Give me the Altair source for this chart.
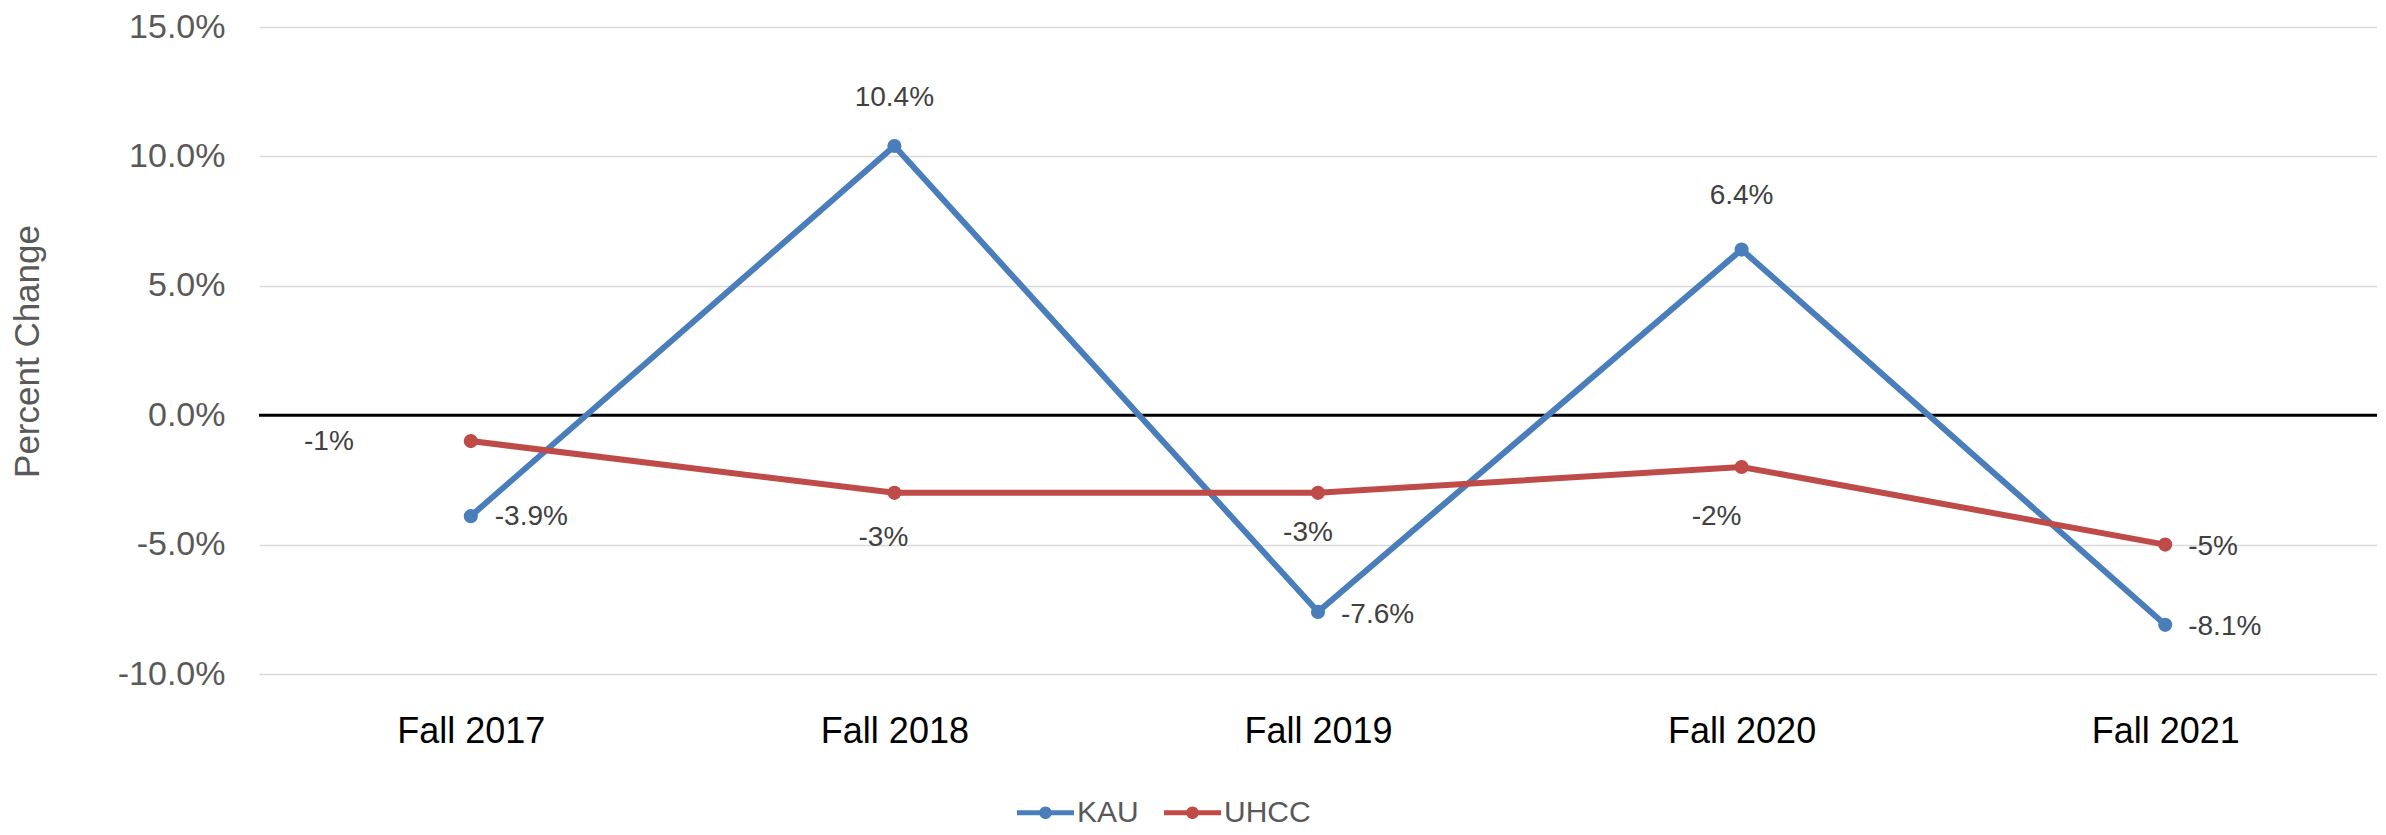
import altair as alt
import pandas as pd

categories = ["Fall 2017", "Fall 2018", "Fall 2019", "Fall 2020", "Fall 2021"]
kau = [-3.9, 10.4, -7.6, 6.4, -8.1]
uhcc = [-1, -3, -3, -2, -5]
series_names = ["KAU", "UHCC"]
colors = ["#4A7EBB", "#BE4B48"]
y_ticks = [-10, -5, 0, 5, 10, 15]

# data-label placement (style only): (series, term) -> (align, dx, dy)
label_place = {
    ("KAU", "Fall 2017"): ("left", 24, 1),
    ("KAU", "Fall 2018"): ("center", 0, -48),
    ("KAU", "Fall 2019"): ("left", 23, 3),
    ("KAU", "Fall 2020"): ("center", 0, -54),
    ("KAU", "Fall 2021"): ("left", 23, 2),
    ("UHCC", "Fall 2017"): ("right", -117, 1),
    ("UHCC", "Fall 2018"): ("center", -11, 45),
    ("UHCC", "Fall 2019"): ("center", -10, 40),
    ("UHCC", "Fall 2020"): ("center", -25, 50),
    ("UHCC", "Fall 2021"): ("left", 23, 2),
}

rows = []
for c, k, u in zip(categories, kau, uhcc):
    rows.append({"term": c, "series": "KAU", "value": k})
    rows.append({"term": c, "series": "UHCC", "value": u})
df = pd.DataFrame(rows)

FONT = "Liberation Sans"

x = alt.X(
    "term:N",
    sort=categories,
    scale=alt.Scale(type="point", padding=0.5),
    axis=alt.Axis(title=None, labelAngle=0, labelFontSize=36, labelColor="#000000",
                  labelPadding=40, domain=False, ticks=False, grid=False),
)
y = alt.Y(
    "value:Q",
    scale=alt.Scale(domain=[-10, 15], nice=False, zero=False),
    axis=alt.Axis(
        values=y_ticks,
        labelExpr="(datum.value < 0 ? '-' : '') + format(abs(datum.value), '.1f') + '%'",
        labelFontSize=34,
        labelColor="#595959",
        labelPadding=34,
        domain=False,
        ticks=False,
        grid=True,
        gridColor="#D9D9D9",
        gridWidth=1.5,
        title="Percent Change",
        titleFontSize=35,
        titleFontWeight="normal",
        titleColor="#595959",
        titleAngle=270,
        titleAlign="center",
        titleBaseline="middle",
        titleX=-232,
        titleY=324,
    ),
)

legend_path = ("M-1,-0.09H1V0.09H-1Z "
               "M-0.22,0A0.22,0.22 0 1,1 0.22,0A0.22,0.22 0 1,1 -0.22,0Z")

color_line = alt.Color("series:N", scale=alt.Scale(domain=series_names, range=colors), legend=None)
color_pt = alt.Color(
    "series:N",
    scale=alt.Scale(domain=series_names, range=colors),
    legend=alt.Legend(
        title=None, orient="none", direction="horizontal",
        legendX=758, legendY=757,
        symbolType=legend_path, symbolSize=3249, symbolStrokeWidth=0,
        labelFontSize=30, labelColor="#595959", labelOffset=3,
        columnPadding=25,
    ),
)

base = alt.Chart(df)

zero = alt.Chart(pd.DataFrame({"z": [0]})).mark_rule(color="black", strokeWidth=3).encode(
    y=alt.Y("z:Q")
)

lines = base.mark_line(strokeWidth=6).encode(x=x, y=y, color=color_line, detail="series:N")
points = base.mark_point(filled=True, shape="circle", size=200, opacity=1).encode(x=x, y=y, color=color_pt)

label_expr = ("(datum.value < 0 ? '-' : '') + "
              "(datum.series == 'KAU' ? format(abs(datum.value), '.1f') : format(abs(datum.value), 'd')) + '%'")


def label(series, term, align, dx, dy):
    return (
        base.transform_filter((alt.datum.series == series) & (alt.datum.term == term))
        .transform_calculate(lbl=label_expr)
        .mark_text(align=align, baseline="middle", dx=dx, dy=dy, fontSize=28,
                   color="#404040", font=FONT)
        .encode(x=x, y=y, text="lbl:N")
    )


texts = [label(s, t, a, dx, dy) for (s, t), (a, dx, dy) in label_place.items()]

chart = (
    alt.layer(zero, lines, points, *texts)
    .resolve_legend(color="independent")
    .properties(
        width=2118,
        height=647,
        autosize=alt.AutoSizeParams(type="none"),
        padding={"left": 251, "top": 19, "right": 0, "bottom": 153},
    )
    .configure(font=FONT)
    .configure_view(stroke=None)
)

chart.save("out.html", embed_options={"renderer": "svg", "actions": False})
